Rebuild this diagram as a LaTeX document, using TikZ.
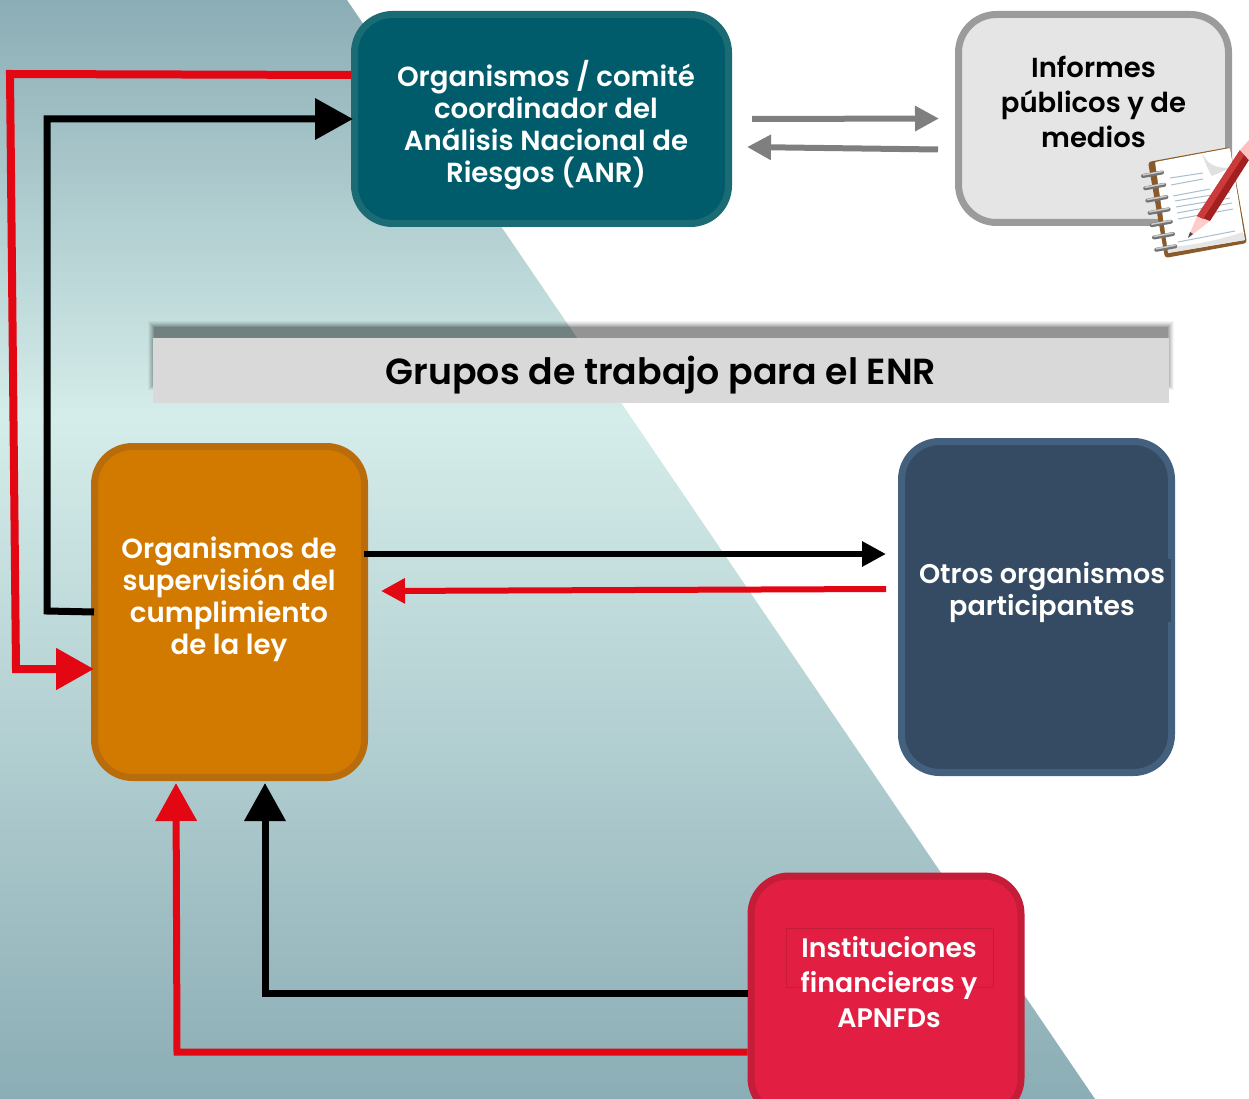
\documentclass[tikz,border=0pt]{standalone}
\usepackage{fontspec}
\setmainfont{Poppins}[BoldFont={Poppins SemiBold}]
\usetikzlibrary{arrows.meta}
\definecolor{fondoBorde}{HTML}{8BADB5}
\definecolor{fondoClaro}{HTML}{D5EDEA}
\definecolor{rojoLinea}{HTML}{E30613}
\definecolor{grisLinea}{HTML}{7F7F7F}
\definecolor{anrFondo}{HTML}{005C6B}
\definecolor{anrBorde}{HTML}{1B6B75}
\definecolor{infFondo}{HTML}{E5E5E5}
\definecolor{infBorde}{HTML}{9B9B9B}
\definecolor{supFondo}{HTML}{D27A00}
\definecolor{supBorde}{HTML}{B86C0C}
\definecolor{otrFondo}{HTML}{354B63}
\definecolor{otrBorde}{HTML}{44607F}
\definecolor{finFondo}{HTML}{E21F42}
\definecolor{finBorde}{HTML}{C41C39}
\definecolor{tapa}{HTML}{8A5A2B}
\definecolor{linea}{HTML}{A9BFCB}
\definecolor{lapizOscuro}{HTML}{A32020}
\definecolor{lapizClaro}{HTML}{CC3A3A}
\pgfdeclareverticalshading{fondo}{100bp}{color(0bp)=(fondoBorde); color(25bp)=(fondoBorde); color(56bp)=(fondoClaro); color(75bp)=(fondoBorde); color(100bp)=(fondoBorde)}
\begin{document}
\begin{tikzpicture}[x=1pt,y=-1pt,
      caja/.style={
        rounded corners=38pt,
        line width=7pt
      },
      texto/.style={
        align=center,
        text=white,
        inner sep=0pt,
        font=\fontsize{27.6}{32}\selectfont\bfseries
      },
      flecha/.style={line width=7pt,-{Triangle[length=38pt,width=40pt]}},
      flechita/.style={line width=6pt,-{Triangle[length=24pt,width=24pt]}}]
      \useasboundingbox (0,0) rectangle (1249,1099);
      \clip (0,0) rectangle (1249,1099);
      \shade[shading=fondo] (0,0) -- (347,0) -- (1095,1099) -- (0,1099) -- cycle;

      % cajas
      \node[caja,draw=anrBorde,fill=anrFondo,minimum width=374pt,minimum height=209pt] (anr) at (541.5,119) {};
      \node[caja,draw=infBorde,fill=infFondo,minimum width=270pt,minimum height=208pt] (informes) at (1093.5,118.5) {};
      \node[caja,draw=supBorde,fill=supFondo,minimum width=270pt,minimum height=331pt] (supervision) at (229.5,612) {};
      \node[caja,draw=otrBorde,fill=otrFondo,minimum width=270pt,minimum height=331pt] (otros) at (1036.5,607) {};
      \node[caja,draw=finBorde,fill=finFondo,minimum width=270pt,minimum height=240pt] (financieras) at (886,996) {};
      \fill[otrFondo] (1166,559) rectangle (1171,622);

      % banda
      \foreach \d/\o in {5/.04,4/.05,3/.06,2/.07,1/.08,0/.1,-1/.12}
        \fill[black,opacity=\o] (153-\d,326-\d) rectangle (1169+\d,385+\d);
      \node[fill=black!15,minimum width=1016pt,minimum height=65pt,inner sep=0pt] (grupos) at (661,370.5) {};
      \node[inner sep=0pt,font=\fontsize{36.3}{40}\selectfont\bfseries] (gruposTexto) at (661,375) {Grupos de trabajo para el ENR};

      % textos
      \node[texto] (anrTexto) at (546,125) {Organismos / comité\\coordinador del\\Análisis Nacional de\\Riesgos (ANR)};
      \node[texto,text=black,font=\fontsize{27.5}{35}\selectfont\bfseries] (informesTexto) at (1093.5,102) {Informes\\públicos y de\\medios};
      \node[texto] (supervisionTexto) at (229,599) {Organismos de\\supervisión del\\cumplimiento\\de la ley};
      \node[texto,font=\fontsize{27}{32}\selectfont\bfseries] (otrosTexto) at (1042,592) {Otros organismos\\participantes};
      \draw[finBorde,line width=1pt] (786,928) rectangle (993,987);
      \node[texto,font=\fontsize{26.8}{35}\selectfont\bfseries] (financierasTexto) at (889,982) {Instituciones\\financieras y\\APNFDs};

      % conectores
      \draw[flecha,rojoLinea,line width=8pt] ([yshift=44pt]anr.west) -- (10,74) -- (16,669) -- ([xshift=3pt,yshift=-57pt]supervision.west);
      \draw[flecha,black] ([xshift=3pt]supervision.west) -- (47,611) -- (47,119) -- ([xshift=2pt]anr.west);
      \draw[flechita,black] ([xshift=-4pt,yshift=58pt]supervision.east) -- ([xshift=-12pt,yshift=53pt]otros.west);
      \draw[flechita,rojoLinea] ([xshift=-12pt,yshift=18pt]otros.west) -- ([xshift=13pt,yshift=21pt]supervision.east);
      \draw[flechita,grisLinea] ([xshift=20pt]anr.east) -- ([xshift=-16pt]informes.west);
      \draw[flechita,grisLinea] ([xshift=-17pt,yshift=-31pt]informes.west) -- ([xshift=15pt,yshift=-28pt]anr.east);
      \draw[flecha,black] ([yshift=3pt]financieras.west) -- (265,993) -- (265,783);
      \draw[flecha,rojoLinea] ([yshift=-56pt]financieras.west) -- (177,1052) -- (176,783);

      % cuaderno
      \fill[tapa,rounded corners=3pt] (1148,162) -- (1230,147) -- (1247,243) -- (1165,258) -- cycle;
      \fill[white,rounded corners=1pt] (1155,162) -- (1230,148) -- (1245,240) -- (1168,253) -- cycle;
      \fill[black!12] (1202,153) .. controls (1208,165) and (1215,168) .. (1230,168) -- (1212,176) .. controls (1208,170) and (1204,160) .. (1202,153) -- cycle;
      \fill[black!10] (1168,253) -- (1245,240) -- (1243,232) .. controls (1220,240) and (1190,246) .. (1168,247) -- cycle;
      \foreach \xa/\ya/\xb/\yb in {1170/178/1203/173,1171/185/1203/179,1173/196/1210/189,1175/201/1230/192,1176/207/1230/198,1177/213/1232/203,1178/219/1233/209,1178/242/1235/231}
        \draw[linea,line width=1pt] (\xa,\ya) -- (\xb,\yb);
      \foreach \i in {0,1,2,3,4,5,6} {
        \draw[black!55,line width=4pt,line cap=round] (1143+\i*2.2,176+\i*12.3) -- (1162+\i*2.2,172.5+\i*12.3);
        \draw[black!20,line width=1.5pt,line cap=round] (1143+\i*2.2,175+\i*12.3) -- (1162+\i*2.2,171.5+\i*12.3);
      }
      \fill[red!20!white] (1188,238) -- (1197,216) -- (1210,221) -- cycle;
      \fill[black!70] (1188,238) -- (1190,232) -- (1193,234) -- cycle;
      \fill[lapizOscuro] (1197,216) -- (1240,150) -- (1249,160) -- (1210,221) -- cycle;
      \fill[lapizClaro] (1197,216) -- (1240,150) -- (1244,155) -- (1203,219) -- cycle;
      \fill[red!25!white] (1240,150) -- (1249,140) -- (1249,160) -- cycle;
    \end{tikzpicture}
\end{document}
